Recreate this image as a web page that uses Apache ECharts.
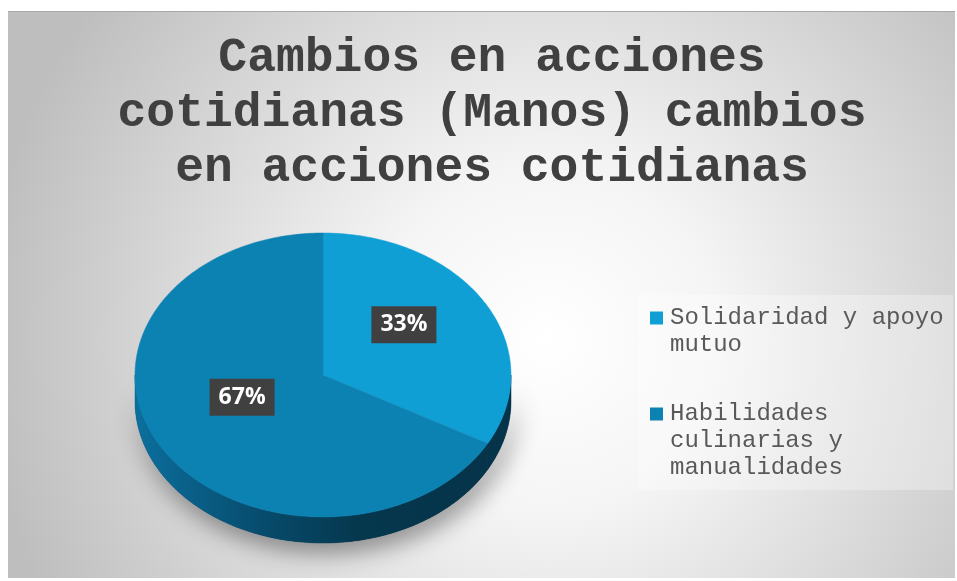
<!DOCTYPE html>
<html>
<head>
<meta charset="utf-8">
<script src="https://cdn.jsdelivr.net/npm/echarts@6/dist/echarts.min.js"></script>
<style>
html, body { margin: 0; padding: 0; background: #fff; }
#chart { position: absolute; left: 8px; top: 11px; width: 947px; height: 567px; }
</style>
</head>
<body>
<div id="chart"></div>
<script>
const titleLines = ['Cambios en acciones', 'cotidianas (Manos) cambios', 'en acciones cotidianas'];
const categories = ['Solidaridad y apoyo mutuo', 'Habilidades culinarias y manualidades'];
const values = [33, 67];
const colors = ['#109fd5', '#0c82b2'];

const total = values.reduce((a, b) => a + b, 0);
const starts = values.map((v, i) => values.slice(0, i).reduce((a, b) => a + b, 0));

// monospace font, so wrapping by character count is exact
function wrap(text, maxChars) {
    const lines = [];
    let cur = '';
    text.split(' ').forEach(w => {
        if (cur && (cur + ' ' + w).length > maxChars) { lines.push(cur); cur = w; }
        else cur = cur ? cur + ' ' + w : w;
    });
    if (cur) lines.push(cur);
    return lines;
}

// pie geometry (tilted disc)
const cx = 315, cy = 364, rx = 188, ry = 142, depth = 26;

const sideFill = new echarts.graphic.LinearGradient(cx - rx, 0, cx + rx, 0, [
    {offset: 0, color: '#0b6f9d'},
    {offset: 0.35, color: '#074a6b'},
    {offset: 0.6, color: '#05374d'},
    {offset: 1, color: '#05334a'}
], true);

function renderSlice(params, api) {
    const start = api.value(0), end = api.value(1), sum = api.value(2);
    const a0 = -Math.PI / 2 + 2 * Math.PI * start / sum;
    const a1 = -Math.PI / 2 + 2 * Math.PI * end / sum;
    const pt = (a, dy) => [cx + rx * Math.cos(a), cy + ry * Math.sin(a) + dy];
    const arc = (from, to, dy) => {
        const n = Math.max(2, Math.ceil(Math.abs(to - from) / (Math.PI / 180)));
        const pts = [];
        for (let k = 0; k <= n; k++) pts.push(pt(from + (to - from) * k / n, dy));
        return pts;
    };
    const children = [];
    // front wall, only where the rim faces the viewer
    const s = Math.max(a0, 0), e = Math.min(a1, Math.PI);
    if (e > s) {
        const pts = arc(s, e, 0).concat(arc(e, s, depth));
        children.push({
            type: 'polygon', z2: 0, shape: {points: pts},
            style: {fill: '#05374d', shadowBlur: 24, shadowColor: 'rgba(0,0,0,0.45)', shadowOffsetY: 9, shadowOffsetX: 4}
        });
        children.push({
            type: 'polygon', z2: 1, shape: {points: pts},
            style: {fill: sideFill, stroke: sideFill, lineWidth: 0.5}
        });
    }
    children.push({
        type: 'polygon', z2: 5,
        shape: {points: [[cx, cy]].concat(arc(a0, a1, 0))},
        style: {fill: api.visual('color'), stroke: api.visual('color'), lineWidth: 0.5}
    });
    const mid = (a0 + a1) / 2;
    children.push({
        type: 'text', z2: 10,
        x: cx + 0.5 * rx * Math.cos(mid),
        y: cy + 0.5 * ry * Math.sin(mid) - 14,
        style: {
            text: Math.round(100 * (end - start) / sum) + '%',
            fill: '#ffffff',
            font: 'bold 23px "Open Sans"',
            align: 'center',
            verticalAlign: 'middle',
            backgroundColor: '#404040',
            padding: [8, 9, 6, 9],
            boxShadowBlur: 6,
            boxShadowColor: 'rgba(0,0,0,0.55)',
            boxShadowOffsetX: 2,
            boxShadowOffsetY: 3
        }
    });
    return {type: 'group', children: children};
}

const lineH = 27;
const legendWrap = categories.map(c => wrap(c, 19));
const legendFirstLine = [307, 403];

const chart = echarts.init(document.getElementById('chart'));
chart.setOption({
    animation: false,
    backgroundColor: {
        type: 'radial', x: 0.57, y: 0.58, r: 1.0,
        colorStops: [
            {offset: 0, color: '#ffffff'},
            {offset: 0.3, color: '#f5f5f5'},
            {offset: 1, color: '#bebebe'}
        ]
    },
    title: {
        text: titleLines.join('\n'),
        left: 479,
        top: 15,
        textAlign: 'center',
        textStyle: {
            fontFamily: 'Liberation Mono',
            fontWeight: 'bold',
            fontSize: 48,
            lineHeight: 55,
            color: '#404040'
        }
    },
    graphic: [
        {type: 'rect', shape: {x: 0, y: 0, width: 947, height: 1}, style: {fill: '#a8a8a8'}},
        {type: 'rect', z: -1, shape: {x: 630, y: 284, width: 315, height: 195}, style: {fill: 'rgba(255,255,255,0.3)'}}
    ],
    legend: categories.map((name, i) => {
        const n = legendWrap[i].length;
        return {
            data: [name],
            orient: 'vertical',
            left: 642,
            top: legendFirstLine[i] - lineH / 2,
            padding: 0,
            // square sits beside the first text line of a multi-line item
            icon: 'path://M0,0M0,7h13v13h-13zM0,' + (n * lineH),
            itemWidth: 13,
            itemHeight: n * lineH,
            selectedMode: false,
            formatter: nm => wrap(nm, 19).join('\n'),
            textStyle: {
                fontFamily: 'Liberation Mono',
                fontSize: 24,
                lineHeight: lineH,
                color: '#595959',
                padding: [0, 0, 0, 2]
            }
        };
    }),
    series: categories.map((name, i) => ({
        type: 'custom',
        name: name,
        coordinateSystem: 'none',
        itemStyle: {color: colors[i]},
        data: [[starts[i], starts[i] + values[i], total]],
        renderItem: renderSlice
    }))
});
</script>
</body>
</html>
